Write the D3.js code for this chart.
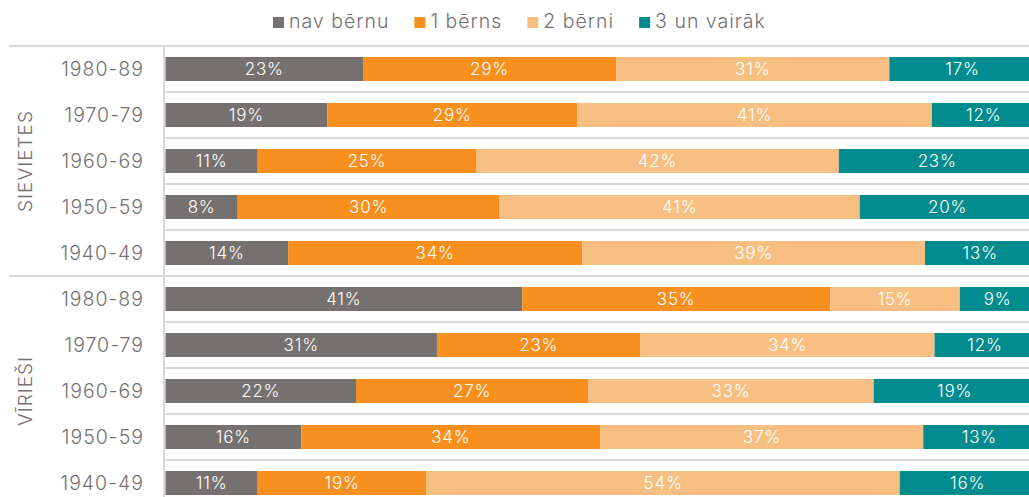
<!DOCTYPE html>
<html>
<head>
<meta charset="utf-8">
<script src="https://cdn.jsdelivr.net/npm/d3@7"></script>
<style>
  body { margin: 0; background: #fff; }
  svg { display: block; font-family: Inter, "Noto Sans", sans-serif; font-weight: 300; }
  .lbl { fill: #fff; font-size: 17px; letter-spacing: 0.8px; }
  .axis-txt { fill: #767171; font-size: 19.5px; letter-spacing: 1px; }
  .grp-txt { fill: #767171; font-size: 19px; letter-spacing: 1px; }
</style>
</head>
<body>
<svg id="chart"></svg>
<script>
// data (shares in %, rows top to bottom)
const groups = ["SIEVIETES", "VĪRIEŠI"];
const cohorts = ["1980-89", "1970-79", "1960-69", "1950-59", "1940-49"];
const series = ["nav bērnu", "1 bērns", "2 bērni", "3 un vairāk"];
const noKids    = [22.7, 18.6, 10.6, 8.3, 14.1, 41.0, 31.2, 21.9, 15.6, 10.6];
const oneKid    = [29.1, 28.7, 25.1, 30.1, 33.8, 35.4, 23.4, 26.7, 34.4, 19.4];
const twoKids   = [31.4, 40.8, 41.7, 41.4, 39.4, 14.9, 33.8, 32.8, 37.1, 54.4];
const threePlus = [16.8, 11.9, 22.6, 20.2, 12.7,  8.7, 11.6, 18.6, 12.9, 15.6];

const colors = ["#767171", "#f7901e", "#f7c082", "#008c8f"];

const width = 1029, height = 497;
const svg = d3.select("#chart").attr("width", width).attr("height", height);

const rows = [];
groups.forEach((g, gi) => cohorts.forEach((c, ci) => {
  const i = gi * cohorts.length + ci;
  rows.push({ key: g + "|" + c, group: g, cohort: c,
    "nav bērnu": noKids[i], "1 bērns": oneKid[i], "2 bērni": twoKids[i], "3 un vairāk": threePlus[i] });
}));

const x = d3.scaleLinear().domain([0, 100]).range([165.5, 1035.5]);
const y = d3.scaleBand().domain(rows.map(d => d.key)).range([46, 506])
  .paddingInner(0.478).paddingOuter(0.239);
const gap = (y.step() - y.bandwidth()) / 2;

// grid lines between rows
svg.append("g").selectAll("line")
  .data(rows)
  .enter().append("line")
    .attr("x1", (d, i) => (i % cohorts.length === 0) ? 9 : 165)
    .attr("x2", width)
    .attr("y1", d => y(d.key) - gap)
    .attr("y2", d => y(d.key) - gap)
    .attr("stroke", "#d9d9d9")
    .attr("stroke-width", 2);

svg.append("line")
  .attr("x1", 164).attr("x2", 164)
  .attr("y1", 46).attr("y2", height)
  .attr("stroke", "#d9d9d9").attr("stroke-width", 2);

const stacked = d3.stack().keys(series)(rows);

const layer = svg.append("g").selectAll("g")
  .data(stacked)
  .enter().append("g")
    .attr("fill", (d, i) => colors[i]);

layer.selectAll("rect")
  .data(d => d)
  .enter().append("rect")
    .attr("x", d => x(d[0]))
    .attr("y", d => y(d.data.key))
    .attr("width", d => x(d[1]) - x(d[0]))
    .attr("height", y.bandwidth());

layer.selectAll("text")
  .data(d => d)
  .enter().append("text")
    .attr("class", "lbl")
    .attr("x", d => (x(d[0]) + x(d[1])) / 2)
    .attr("y", d => y(d.data.key) + y.bandwidth() / 2)
    .attr("dy", "0.36em")
    .attr("text-anchor", "middle")
    .text(d => Math.round(d[1] - d[0]) + "%");

// cohort labels
svg.append("g").selectAll("text")
  .data(rows)
  .enter().append("text")
    .attr("class", "axis-txt")
    .attr("x", 144)
    .attr("y", d => y(d.key) + y.bandwidth() / 2)
    .attr("dy", "0.36em")
    .attr("text-anchor", "end")
    .text(d => d.cohort);

// group labels
svg.append("g").selectAll("text")
  .data(groups)
  .enter().append("text")
    .attr("class", "grp-txt")
    .attr("text-anchor", "middle")
    .attr("transform", (g, gi) => {
      const first = y(g + "|" + cohorts[0]) - gap;
      const mid = first + y.step() * cohorts.length / 2;
      return "translate(25," + mid + ") rotate(-90)";
    })
    .attr("dy", "0.36em")
    .text(d => d);

// legend
const legend = svg.append("g").attr("class", "legend");
let lx = 273;
series.forEach((s, i) => {
  legend.append("rect")
    .attr("x", lx).attr("y", 17)
    .attr("width", 11).attr("height", 11)
    .attr("fill", colors[i]);
  const t = legend.append("text")
    .attr("class", "axis-txt")
    .attr("x", lx + 16).attr("y", 28)
    .text(s);
  lx += 16 + t.node().getComputedTextLength() + 25;
});
</script>
</body>
</html>
